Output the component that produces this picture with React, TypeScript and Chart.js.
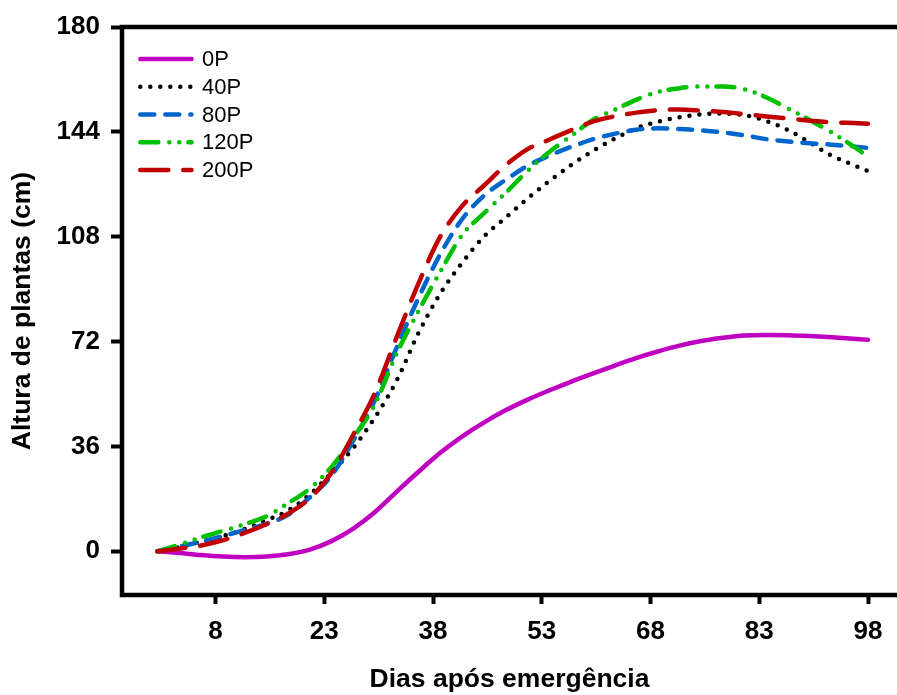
import React, { useEffect, useRef } from "react";
import { Chart, registerables } from "chart.js";

Chart.register(...registerables);

const days = [0, 3, 6, 9, 12, 15, 18, 21, 24, 27, 30, 33, 36, 39, 42, 45, 48, 51, 54, 57, 60, 63, 66, 69, 72, 75, 78, 81, 84, 87, 90, 93, 96, 98];

const series0P = [0, -0.6, -1.3, -1.8, -2.0, -1.8, -1.0, 0.6, 3.5, 7.8, 13.5, 20.5, 27.3, 33.8, 39.4, 44.2, 48.4, 52.0, 55.2, 58.2, 61.0, 63.7, 66.3, 68.6, 70.6, 72.2, 73.3, 74.1, 74.3, 74.2, 73.9, 73.5, 73.0, 72.6];
const series40P = [0, 1.5, 3.3, 5.2, 7.6, 10.6, 14.0, 19.5, 27.0, 35.5, 46.0, 58.7, 75.0, 88.5, 99.0, 108.0, 114.5, 121.0, 127.0, 132.5, 137.4, 141.6, 145.2, 147.5, 149.0, 150.0, 150.3, 149.7, 147.7, 144.6, 140.3, 135.8, 132.6, 130.5];
const series80P = [0, 1.6, 3.3, 5.2, 7.3, 9.4, 12.5, 18.5, 26.0, 38.0, 52.0, 70.0, 87.0, 102.0, 114.0, 122.0, 127.5, 132.3, 135.8, 138.8, 141.4, 143.3, 144.7, 145.2, 145.0, 144.5, 143.8, 142.8, 141.5, 140.7, 140.1, 139.6, 139.0, 138.5];
const series120P = [0, 2.3, 4.8, 7.0, 9.3, 12.0, 16.5, 21.5, 29.0, 39.0, 50.5, 68.0, 82.5, 96.0, 108.5, 116.0, 123.0, 130.5, 137.0, 142.5, 148.0, 151.5, 155.0, 157.7, 159.0, 159.6, 159.6, 158.6, 155.8, 152.0, 148.0, 143.8, 139.0, 135.5];
const series200P = [0, 0.9, 2.0, 3.8, 6.3, 9.3, 12.9, 18.2, 27.0, 40.0, 54.5, 73.6, 92.0, 108.0, 118.5, 125.5, 132.5, 138.0, 141.3, 144.5, 147.5, 149.3, 150.6, 151.4, 151.7, 151.3, 150.8, 150.1, 149.3, 148.6, 147.8, 147.3, 147.0, 146.8];

const seriesLabels = ["0P", "40P", "80P", "120P", "200P"];
const xTickValues = [8, 23, 38, 53, 68, 83, 98];
const yTickValues = [0, 36, 72, 108, 144, 180];
const xTitle = "Dias após emergência";
const yTitle = "Altura de plantas (cm)";

const FONT = "'Liberation Sans', Arial, Helvetica, sans-serif";

const lineStyles = [
  { color: "#C000C0", dash: [] as number[] },
  { color: "#000000", dash: [0, 10] },
  { color: "#0066CC", dash: [14, 11] },
  { color: "#00C000", dash: [18, 11, 0, 10, 0, 9] },
  { color: "#C00000", dash: [28, 15] },
];

const frameAndLegendPlugin = {
  id: "frameAndLegend",
  beforeDatasetsDraw(chart: any) {
    const { ctx, chartArea } = chart;
    ctx.save();
    ctx.strokeStyle = "#000";
    ctx.lineWidth = 4.5;
    ctx.lineCap = "square";
    ctx.setLineDash([]);
    ctx.beginPath();
    ctx.moveTo(chart.width + 5, chartArea.top);
    ctx.lineTo(chartArea.left, chartArea.top);
    ctx.lineTo(chartArea.left, chartArea.bottom);
    ctx.lineTo(chart.width + 5, chartArea.bottom);
    ctx.stroke();
    ctx.restore();
  },
  afterDatasetsDraw(chart: any) {
    const { ctx, chartArea } = chart;
    ctx.save();
    chart.data.datasets.forEach((ds: any, i: number) => {
      const y = chartArea.top + 32 + i * 27.75;
      const x0 = chartArea.left + 18.3;
      ctx.beginPath();
      ctx.setLineDash(ds.borderDash || []);
      ctx.lineCap = "round";
      ctx.lineWidth = 4.5;
      ctx.strokeStyle = ds.borderColor;
      ctx.moveTo(x0, y);
      ctx.lineTo(x0 + 51.2, y);
      ctx.stroke();
      ctx.setLineDash([]);
      ctx.fillStyle = "#000";
      ctx.font = `22px ${FONT}`;
      ctx.textBaseline = "middle";
      ctx.textAlign = "left";
      ctx.fillText(ds.label, chartArea.left + 80, y + 1);
    });
    ctx.restore();
  },
};

export default function App() {
  const canvasRef = useRef<HTMLCanvasElement | null>(null);

  useEffect(() => {
    if (!canvasRef.current) return;
    const allSeries = [series0P, series40P, series80P, series120P, series200P];
    const datasets = allSeries.map((vals, i) => ({
      label: seriesLabels[i],
      data: days.map((d, j) => ({ x: d, y: vals[j] })),
      borderColor: lineStyles[i].color,
      backgroundColor: lineStyles[i].color,
      borderDash: lineStyles[i].dash,
      borderWidth: 4.5,
      borderCapStyle: "round" as const,
      borderJoinStyle: "round" as const,
      cubicInterpolationMode: "monotone" as const,
      pointRadius: 0,
      fill: false,
      order: allSeries.length - i,
    }));

    const chart = new Chart(canvasRef.current, {
      type: "line",
      data: { datasets },
      options: {
        responsive: true,
        maintainAspectRatio: false,
        animation: false,
        layout: { padding: { top: 27, left: 0, right: 0, bottom: 0 } },
        plugins: {
          legend: { display: false },
          tooltip: { enabled: false },
        },
        scales: {
          x: {
            type: "linear",
            min: -4.9,
            max: 102,
            afterBuildTicks: (s: any) => {
              s.ticks = xTickValues.map((v) => ({ value: v }));
            },
            afterFit: (s: any) => {
              s.height = 100;
            },
            border: { display: false },
            grid: {
              display: true,
              drawOnChartArea: false,
              drawTicks: true,
              tickLength: 9,
              tickWidth: 4,
              tickColor: "#000",
            },
            ticks: {
              color: "#000",
              font: { family: FONT, size: 26, weight: "bold" },
              padding: 12,
              maxRotation: 0,
              autoSkip: false,
            },
            title: {
              display: true,
              text: xTitle,
              color: "#000",
              font: { family: FONT, size: 26.5, weight: "bold" },
              padding: { top: 0, bottom: -1 },
            },
          },
          y: {
            type: "linear",
            min: -15,
            max: 180,
            afterBuildTicks: (s: any) => {
              s.ticks = yTickValues.map((v) => ({ value: v }));
            },
            afterFit: (s: any) => {
              s.width = 122;
            },
            border: { display: false },
            grid: {
              display: true,
              drawOnChartArea: false,
              drawTicks: true,
              tickLength: 11,
              tickWidth: 4,
              tickColor: "#000",
            },
            ticks: {
              color: "#000",
              font: { family: FONT, size: 26, weight: "bold" },
              padding: 11,
            },
            title: {
              display: true,
              text: yTitle,
              color: "#000",
              font: { family: FONT, size: 26.5, weight: "bold" },
              padding: { top: 7, bottom: 0 },
            },
          },
        },
      },
      plugins: [frameAndLegendPlugin],
    });

    return () => chart.destroy();
  }, []);

  return (
    <div style={{ position: "fixed", left: 0, top: 0, width: 897, height: 695, background: "#fff" }}>
      <canvas ref={canvasRef} />
    </div>
  );
}
